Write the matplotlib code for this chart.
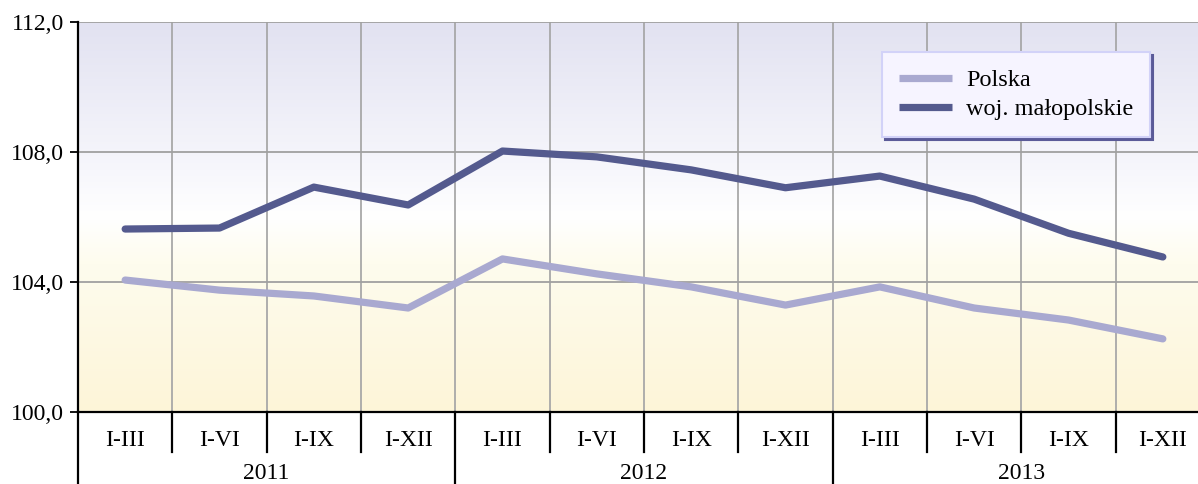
import matplotlib.pyplot as plt
import numpy as np
from matplotlib.colors import LinearSegmentedColormap
import matplotlib.transforms as mtransforms

plt.rcParams['font.family'] = ['Liberation Serif', 'DejaVu Serif']

periods = ['I-III', 'I-VI', 'I-IX', 'I-XII'] * 3
years = ['2011', '2012', '2013']
polska = [104.06, 103.75, 103.57, 103.20, 104.71, 104.25, 103.85, 103.29,
          103.85, 103.20, 102.83, 102.25]
malopolskie = [105.63, 105.66, 106.92, 106.37, 108.03, 107.85, 107.45, 106.90,
               107.26, 106.55, 105.50, 104.77]
yticks = [100, 104, 108, 112]

fig = plt.figure(figsize=(11.98, 4.84), dpi=100)
ax = fig.add_axes([78 / 1198, 72 / 484, 1132 / 1198, 390 / 484])

x = np.arange(len(periods))
ax.set_xlim(-0.5, len(periods) - 0.5)
ax.set_ylim(100, 112)

# background gradient
cmap = LinearSegmentedColormap.from_list(
    'bg', [(0, '#fdf5d8'), (0.38, '#fefcee'), (0.5, '#ffffff'),
           (0.62, '#f7f7fc'), (1, '#e2e2f1')])
grad = np.linspace(0, 1, 256).reshape(-1, 1)
ax.imshow(grad, cmap=cmap, aspect='auto', origin='lower',
          extent=(-0.5, len(periods) - 0.5, 100, 112), zorder=0)

# grid
for xv in np.arange(0.5, len(periods) - 0.5, 1):
    ax.axvline(xv, color='#a8a8a8', lw=1.3, zorder=1)
for yv in yticks[1:]:
    ax.axhline(yv, color='#a0a0a0', lw=1.3, zorder=1)

ax.plot(x, polska, color='#a9a9d0', lw=5.2, solid_capstyle='round',
        label='Polska', zorder=3)
ax.plot(x, malopolskie, color='#545a8e', lw=5.2, solid_capstyle='round',
        label='woj. małopolskie', zorder=3)

ax.set_yticks(yticks)
ax.set_yticklabels([f'{v:.1f}'.replace('.', ',') for v in yticks], fontsize=17)
ax.tick_params(axis='y', length=6, width=1.3, pad=4)
ax.set_xticks([])

for s in ['top', 'right']:
    ax.spines[s].set_visible(False)
ax.spines['left'].set_linewidth(1.6)
ax.spines['bottom'].set_linewidth(1.6)
ax.spines['left'].set_zorder(4)

# two-level x axis
trans = mtransforms.blended_transform_factory(ax.transData, ax.transAxes)
for i, p in enumerate(periods):
    ax.text(i, -0.072, p, transform=trans, ha='center', va='center', fontsize=17)
for i in range(1, len(periods)):
    bottom = -0.2 if i % 4 == 0 else -0.103
    ax.plot([i - 0.5, i - 0.5], [0, bottom], transform=trans, color='black',
            lw=1.6, clip_on=False)
ax.plot([-0.5, -0.5], [0, -0.2], transform=trans, color='black', lw=1.6,
        clip_on=False)
for j, yr in enumerate(years):
    ax.text(j * 4 + 1.5, -0.158, yr, transform=trans, ha='center', va='center',
            fontsize=17)

leg = ax.legend(loc='upper left', bbox_to_anchor=(804 / 1132, 1 - 30 / 390),
                fontsize=17.5, frameon=True, fancybox=False,
                shadow={'color': '#5a5a98', 'alpha': 1},
                handlelength=2.2, handletextpad=0.55, borderpad=0.7,
                labelspacing=0.3, borderaxespad=0)
for ln in leg.get_lines():
    ln.set_solid_capstyle('butt')
    ln.set_linewidth(5.2)
leg.get_frame().set_facecolor('#f6f4ff')
leg.get_frame().set_edgecolor('#d2d2f8')
leg.get_frame().set_linewidth(1.5)
leg.get_frame().set_alpha(1)

fig.savefig('out.png', dpi=100)
